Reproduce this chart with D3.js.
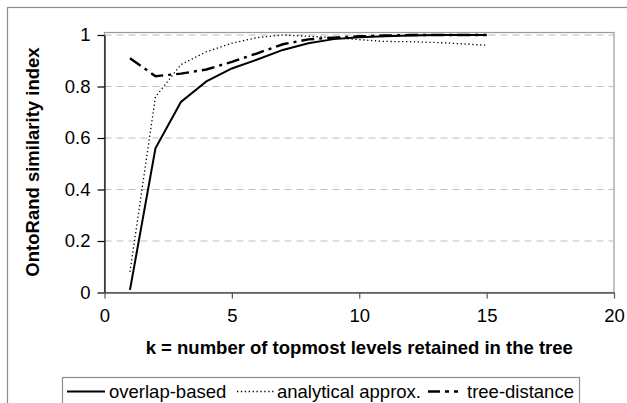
<!DOCTYPE html>
<html><head><meta charset="utf-8">
<script src="https://cdn.jsdelivr.net/npm/d3@7"></script>
<style>body{margin:0;background:#fff}svg{display:block}text{font-family:"Liberation Sans",Arial,sans-serif;fill:#000}</style>
</head><body><svg id="c" width="627" height="403"></svg>
<script>
const ks = [1,2,3,4,5,6,7,8,9,10,11,12,13,14,15];
const overlapBased = [0.01,0.56,0.74,0.82,0.87,0.905,0.942,0.968,0.984,0.991,0.995,0.998,1.0,1.0,1.0];
const analyticalApprox = [0.08,0.76,0.885,0.935,0.968,0.99,1.0,0.995,0.99,0.982,0.975,0.974,0.971,0.966,0.96];
const treeDistance = [0.91,0.84,0.85,0.866,0.896,0.929,0.964,0.983,0.99,0.995,0.998,1.0,1.0,1.0,1.0];
const xTicks = [0,5,10,15,20];
const yTicks = [0,0.2,0.4,0.6,0.8,1];
const yTickLabels = ["0","0.2","0.4","0.6","0.8","1"];
const seriesNames = ["overlap-based","analytical approx.","tree-distance"];

const svg = d3.select("#c");
const L=104.5, R=614, T=35, B=292.5;
const x = d3.scaleLinear().domain([0,20]).range([L,R]);
const y = d3.scaleLinear().domain([0,1]).range([B,T]);
const FS = 18.5;

// outer chart border
svg.append("rect").attr("x",7.5).attr("y",7.5).attr("width",640).attr("height",420)
  .attr("fill","none").attr("stroke","#8c8c8c").attr("stroke-width",1.2);

// plot area border
svg.append("rect").attr("x",L).attr("y",32.5).attr("width",R-L).attr("height",B-32.5)
  .attr("fill","none").attr("stroke","#9a9a9a").attr("stroke-width",1.2);

// gridlines
svg.append("g").selectAll("line").data(yTicks.filter(d=>d>0)).join("line")
  .attr("x1",L).attr("x2",R).attr("y1",d=>y(d)).attr("y2",d=>y(d))
  .attr("stroke","#bdbdbd").attr("stroke-width",1).attr("stroke-dasharray","7,5");

// axes
const yAxis = d3.axisLeft(y).tickValues(yTicks).tickFormat((d,i)=>yTickLabels[i]).tickSizeInner(7).tickSizeOuter(0).tickPadding(7);
const gy = svg.append("g").attr("transform",`translate(${L},0)`).call(yAxis);
gy.select(".domain").attr("stroke","#000").attr("stroke-width",1.2);
gy.selectAll(".tick line").attr("stroke","#000").attr("stroke-width",1.2);
gy.selectAll("text").attr("font-size",FS).attr("font-family","Liberation Sans, Arial, sans-serif");

const xAxis = d3.axisBottom(x).tickValues(xTicks).tickSizeInner(6).tickSizeOuter(0).tickPadding(10);
const gx = svg.append("g").attr("transform",`translate(0,${B})`).call(xAxis);
gx.select(".domain").attr("stroke","#555").attr("stroke-width",1.5);
gx.selectAll(".tick line").attr("stroke","#555").attr("stroke-width",1.2);
gx.selectAll("text").attr("font-size",FS).attr("font-family","Liberation Sans, Arial, sans-serif");

// series
const line = d3.line().x((d,i)=>x(ks[i])).y(d=>y(d));
svg.append("path").datum(analyticalApprox).attr("d",line).attr("fill","none")
  .attr("stroke","#000").attr("stroke-width",1.3).attr("stroke-dasharray","1.3,2.6");
svg.append("path").datum(treeDistance).attr("d",line).attr("fill","none")
  .attr("stroke","#000").attr("stroke-width",2.4).attr("stroke-dasharray","13,5,3,5");
svg.append("path").datum(overlapBased).attr("d",line).attr("fill","none")
  .attr("stroke","#000").attr("stroke-width",2);

// axis titles
svg.append("text").attr("transform",`translate(39,162) rotate(-90)`).attr("text-anchor","middle")
  .attr("font-size",FS).attr("font-weight","bold").text("OntoRand similarity index");
svg.append("text").attr("x",(L+R)/2).attr("y",354).attr("text-anchor","middle")
  .attr("font-size",FS).attr("font-weight","bold").text("k = number of topmost levels retained in the tree");

// legend
const lg = svg.append("g");
lg.append("rect").attr("x",62.5).attr("y",377.5).attr("width",517).attr("height",40)
  .attr("fill","#fff").attr("stroke","#8c8c8c").attr("stroke-width",1.2);
const legendItems = [
  {name:seriesNames[0], x1:67, x2:105, tx:109, w:2, dash:null},
  {name:seriesNames[1], x1:237, x2:274, tx:277, w:1.3, dash:"1.3,2.6"},
  {name:seriesNames[2], x1:428, x2:463, tx:467, w:2.4, dash:"12,5,4,5,4,5"}
];
legendItems.forEach(it=>{
  lg.append("line").attr("x1",it.x1).attr("x2",it.x2).attr("y1",391.5).attr("y2",391.5)
    .attr("stroke","#000").attr("stroke-width",it.w).attr("stroke-dasharray",it.dash);
  lg.append("text").attr("x",it.tx).attr("y",397.5).attr("font-size",FS).text(it.name);
});
</script></body></html>
